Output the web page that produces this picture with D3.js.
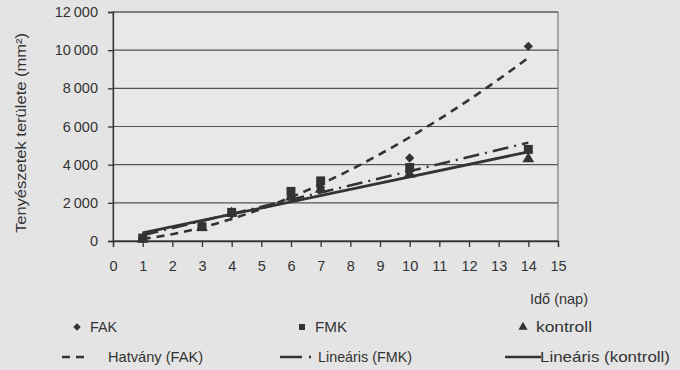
<!DOCTYPE html>
<head>
  <meta charset="utf-8">
  <title>Tenyészetek területe</title>
  <script src="https://d3js.org/d3.v7.min.js"></script>
  <style>
    body { margin:0; background:#e4e4e4; }
    svg { display:block; font-family:"Liberation Sans", Arial, sans-serif; }
  </style>
</head>

<body>
  <svg width="680" height="370"></svg>
  <script>
    // measured days
    var days = [1, 3, 4, 6, 7, 10, 14];
    // area values (mm2)
    var fak = [150, 800, 1400, 2300, 2800, 4350, 10200];
    var fmk = [150, 750, 1500, 2600, 3150, 3850, 4800];
    var kontroll = [100, 700, 1450, 2300, 2700, 3500, 4300];

    // trendline coefficients
    var powFak = { a: 111, b: 1.69 };       // y = a * x^b
    var linFmk = { m: 373, c: -70 };        // y = m * x + c
    var linKontroll = { m: 327, c: 93 };

    var xTicks = d3.range(0, 16);
    var yTicks = [0, 2000, 4000, 6000, 8000, 10000, 12000];

    var ink = '#333';
    var svg = d3.select('svg');

    var x = d3.scaleLinear().domain([0, 15]).range([113, 558]);
    var y = d3.scaleLinear().domain([0, 12000]).range([241, 12]);

    var fmt = function(d) {
      return d3.format(',')(d).replace(/,/g, '\u2009');
    };

    // plot area
    svg.append('rect')
      .attr('x', x(0)).attr('y', y(12000))
      .attr('width', x(15) - x(0)).attr('height', y(0) - y(12000))
      .attr('fill', '#e8e8e8')
      .attr('stroke', '#666').attr('stroke-width', 1);

    // grid
    svg.append('g').selectAll('line')
      .data(yTicks)
      .join('line')
      .attr('x1', x(0)).attr('x2', x(15))
      .attr('y1', d => y(d)).attr('y2', d => y(d))
      .attr('stroke', '#555').attr('stroke-width', 1.2);

    // axes
    var yAxis = svg.append('g')
      .attr('transform', 'translate(' + x(0) + ',0)')
      .call(d3.axisLeft(y).tickValues(yTicks).tickSize(5).tickPadding(10).tickFormat(fmt));
    var xAxis = svg.append('g')
      .attr('transform', 'translate(0,' + y(0) + ')')
      .call(d3.axisBottom(x).tickValues(xTicks).tickSize(6).tickPadding(14));

    [xAxis, yAxis].forEach(function(g) {
      g.select('.domain').attr('stroke', ink).attr('stroke-width', 1.3);
      g.selectAll('.tick line').attr('stroke', ink).attr('stroke-width', 1.3);
      g.selectAll('.tick text').attr('fill', ink).style('font-size', '14.5px').attr('font-family', null);
    });

    // trend lines
    var xs = d3.range(1, 14.01, 0.25);
    var line = d3.line().x(d => x(d[0])).y(d => y(d[1]));

    svg.append('path')
      .attr('d', line(xs.map(t => [t, powFak.a * Math.pow(t, powFak.b)])))
      .attr('fill', 'none').attr('stroke', ink).attr('stroke-width', 2.6)
      .attr('stroke-dasharray', '8,6');

    svg.append('path')
      .attr('d', line([1, 14].map(t => [t, linFmk.m * t + linFmk.c])))
      .attr('fill', 'none').attr('stroke', ink).attr('stroke-width', 2.4)
      .attr('stroke-dasharray', '16,6,2,6');

    svg.append('path')
      .attr('d', line([1, 14].map(t => [t, linKontroll.m * t + linKontroll.c])))
      .attr('fill', 'none').attr('stroke', ink).attr('stroke-width', 2.8);

    // markers
    var shapes = { diamond: d3.symbolDiamond2, square: d3.symbolSquare, triangle: d3.symbolTriangle };
    var series = [
      { name: 'FAK', values: fak, shape: 'diamond', size: 55 },
      { name: 'FMK', values: fmk, shape: 'square', size: 80 },
      { name: 'kontroll', values: kontroll, shape: 'triangle', size: 60 }
    ];
    series.forEach(function(s) {
      svg.append('g').selectAll('path')
        .data(s.values)
        .join('path')
        .attr('d', d3.symbol().type(shapes[s.shape]).size(s.size)())
        .attr('transform', (d, i) => 'translate(' + x(days[i]) + ',' + y(d) + ')')
        .attr('fill', ink);
    });

    // axis titles
    svg.append('text')
      .attr('transform', 'translate(26,133) rotate(-90)')
      .attr('text-anchor', 'middle')
      .attr('fill', ink).style('font-size', '15px')
      .attr('textLength', 200).attr('lengthAdjust', 'spacingAndGlyphs')
      .text('Tenyészetek területe (mm²)');

    svg.append('text')
      .attr('x', 588).attr('y', 304)
      .attr('text-anchor', 'end')
      .attr('fill', ink).style('font-size', '14.5px')
      .text('Idő (nap)');

    // legend
    var legTop = [
      { x: 77, shape: 'diamond', label: 'FAK', w: 27 },
      { x: 302, shape: 'square', label: 'FMK', w: 32 },
      { x: 523, shape: 'triangle', label: 'kontroll', w: 56 }
    ];
    legTop.forEach(function(l) {
      svg.append('path')
        .attr('d', d3.symbol().type(shapes[l.shape]).size(36)())
        .attr('transform', 'translate(' + l.x + ',327)')
        .attr('fill', ink);
      svg.append('text')
        .attr('x', l.x + 13).attr('y', 332)
        .attr('fill', ink).style('font-size', '15px')
        .attr('textLength', l.w).attr('lengthAdjust', 'spacingAndGlyphs')
        .text(l.label);
    });

    var legBottom = [
      { x1: 62, x2: 90, dash: '8,6', label: 'Hatvány (FAK)', tx: 108, w: 95 },
      { x1: 280, x2: 316, dash: '22,7,2,7', label: 'Lineáris (FMK)', tx: 318, w: 94 },
      { x1: 505, x2: 541, dash: null, label: 'Lineáris (kontroll)', tx: 540, w: 130 }
    ];
    legBottom.forEach(function(l) {
      svg.append('line')
        .attr('x1', l.x1).attr('x2', l.x2).attr('y1', 357).attr('y2', 357)
        .attr('stroke', ink).attr('stroke-width', 2.6)
        .attr('stroke-dasharray', l.dash);
      svg.append('text')
        .attr('x', l.tx).attr('y', 362)
        .attr('fill', ink).style('font-size', '15px')
        .attr('textLength', l.w).attr('lengthAdjust', 'spacingAndGlyphs')
        .text(l.label);
    });
  </script>
</body>
